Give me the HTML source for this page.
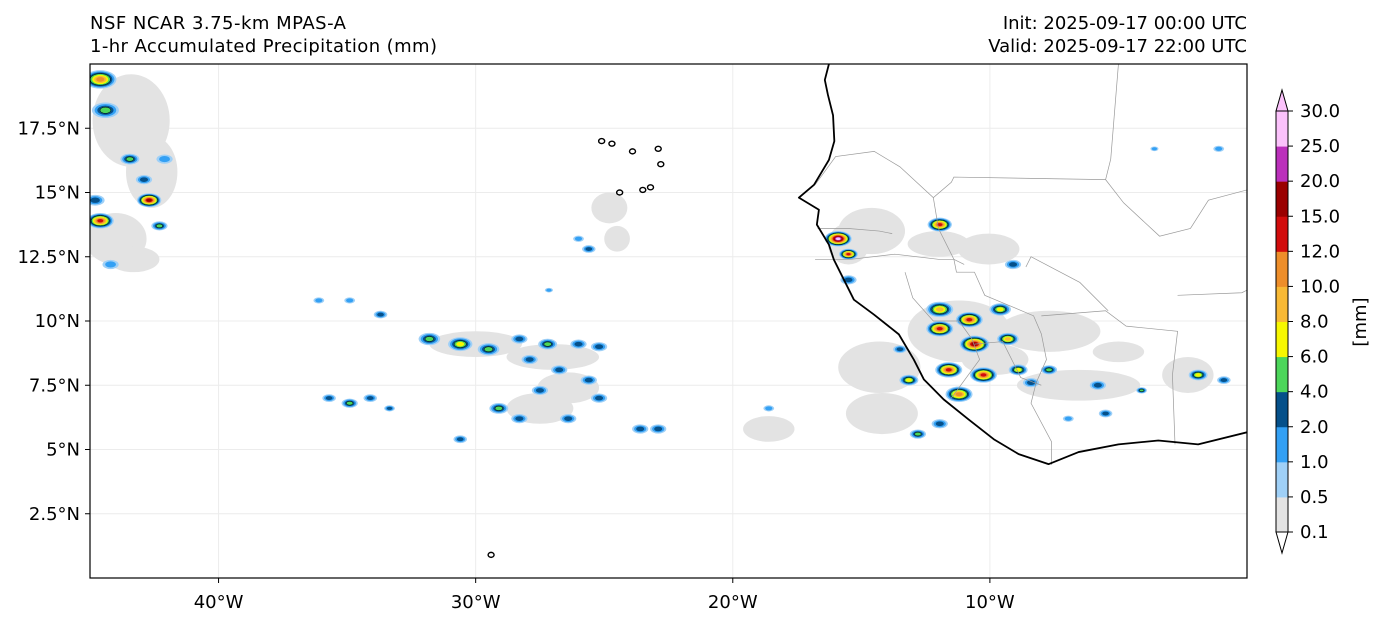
<!DOCTYPE html>
<html><head><meta charset="utf-8">
<style>
body{margin:0;background:#fff;font-family:"Liberation Sans","DejaVu Sans",sans-serif;}
svg{display:block}
text{font-family:"DejaVu Sans","Liberation Sans",sans-serif;font-size:18px;fill:#000}
</style></head>
<body>
<svg id="chart" width="1384" height="623" viewBox="0 0 1384 623" xmlns="http://www.w3.org/2000/svg">
<rect width="1384" height="623" fill="#fff"/>
<text x="90" y="29" textLength="256">NSF NCAR 3.75-km MPAS-A</text>
<text x="90" y="52" textLength="347">1-hr Accumulated Precipitation (mm)</text>
<text x="1247" y="29" text-anchor="end">Init: 2025-09-17 00:00 UTC</text>
<text x="1247" y="52" text-anchor="end">Valid: 2025-09-17 22:00 UTC</text>
<defs><clipPath id="mapclip"><rect x="90" y="64" width="1157" height="514"/></clipPath></defs>
<g id="grid"></g>
<g id="precip" clip-path="url(#mapclip)"></g>
<g id="geo" clip-path="url(#mapclip)"></g>
<rect x="90" y="64" width="1157" height="514" fill="none" stroke="#000" stroke-width="1.2"/>
<g id="axes"></g>
<g id="cbar"></g>
<text transform="translate(1366,322) rotate(-90)" text-anchor="middle">[mm]</text>
</svg>
<script>
const NS="http://www.w3.org/2000/svg";
// ---- data ----
const lonTicks=[-40,-30,-20,-10];
const lonLabels=["40°W","30°W","20°W","10°W"];
const latTicks=[2.5,5,7.5,10,12.5,15,17.5];
const latLabels=["2.5°N","5°N","7.5°N","10°N","12.5°N","15°N","17.5°N"];
const levels=[0.1,0.5,1,2,4,6,8,10,12,15,20,25,30];
const levelColors=["#e3e3e3","#9fd0f7","#33a0f4","#05508a","#4cd65a","#f7f700","#f8b935","#ee8e2a","#d20c0c","#9a0000","#bb30bb","#fbc2fb"];
const coastLon=[-16.26,-16.42,-16.3,-16.1,-16.05,-16.26,-16.84,-17.43,-16.65,-16.73,-16.26,-16.07,-15.29,-14.51,-13.54,-12.96,-12.57,-11.8,-10.83,-9.85,-8.88,-7.72,-6.55,-5.0,-3.45,-1.9,0];
const coastLat=[20,19.38,18.8,18.0,17.0,16.27,15.3,14.8,14.33,13.75,12.97,12.39,10.83,10.25,9.48,8.5,7.73,6.95,6.17,5.4,4.82,4.43,4.9,5.2,5.35,5.2,5.67];
const borders=[
 [[-16.8,15.3],[-16.0,16.4],[-14.5,16.6],[-13.5,16.0],[-12.2,14.8],[-11.5,15.4],[-11.4,15.6],[-5.5,15.5],[-5.3,16.3],[-5.0,20]],
 [[-16.7,13.6],[-15.5,13.6],[-14.3,13.5],[-13.8,13.4]],
 [[-16.8,12.4],[-15.4,12.4],[-13.7,12.6],[-12.0,12.4],[-11.4,12.4],[-11.0,12.2]],
 [[-12.2,14.8],[-12.0,13.6],[-11.4,12.4],[-11.3,11.9],[-10.6,11.9],[-10.2,11.0],[-9.0,10.5],[-8.3,10.2],[-8.0,9.5],[-7.8,8.5],[-8.2,7.6],[-8.4,6.8],[-7.6,5.3],[-7.6,4.4]],
 [[-13.3,11.9],[-13.0,10.9],[-12.2,10.0],[-11.2,10.0],[-10.7,9.3],[-10.4,8.5],[-11.5,7.0]],
 [[-10.6,9.1],[-9.5,9.2],[-8.8,7.8],[-8.0,7.5]],
 [[-5.5,15.5],[-4.8,14.6],[-3.4,13.3],[-2.2,13.6],[-1.5,14.7],[0,15.1]],
 [[-8.0,10.2],[-5.5,10.4],[-4.7,9.8],[-2.7,9.6],[-2.9,7.9],[-2.8,5.2]],
 [[-2.7,11.0],[-0.2,11.1],[0,11.2]],
 [[-8.6,12.1],[-8.4,12.5],[-6.5,11.5],[-5.4,10.4]]
];
const grayLon=[-43.4,-42.6,-44.0,-24.8,-14.6,-14.3,-11.2,-7.7,-6.55,-10.05,-2.3,-30.0,-27.0,-27.5,-26.4,-18.6,-15.5,-12.0,-14.2,-9.8,-5.0,-24.5,-43.3];
const grayLat=[17.8,15.8,13.2,14.4,13.5,8.2,9.6,9.6,7.5,12.8,7.9,9.1,8.6,6.6,7.4,5.8,13.0,13.0,6.4,8.5,8.8,13.2,12.4];
const grayRx=[1.5,1.0,1.2,0.7,1.3,1.6,2.0,2.0,2.4,1.2,1.0,1.8,1.8,1.3,1.2,1.0,0.8,1.2,1.4,1.3,1.0,0.5,1.0];
const grayRy=[1.8,1.4,1.0,0.6,0.9,1.0,1.2,0.8,0.6,0.6,0.7,0.5,0.5,0.6,0.6,0.5,0.8,0.5,0.8,0.6,0.4,0.5,0.5];
const cellLon=[-44.6,-44.4,-44.6,-44.8,-43.45,-42.7,-42.9,-42.3,-42.1,-44.2,-31.8,-30.6,-29.5,-28.3,-27.2,-26.0,-25.2,-27.9,-26.75,-25.6,-27.5,-29.1,-28.3,-26.4,-25.2,-23.6,-22.9,-30.6,-36.1,-34.9,-33.7,-35.7,-34.9,-34.1,-33.35,-26.0,-25.6,-27.15,-18.6,-15.9,-15.5,-11.95,-9.1,-11.95,-10.8,-9.6,-11.95,-10.6,-9.3,-11.6,-10.25,-8.9,-7.7,-13.15,-11.2,-11.95,-5.8,-1.9,-0.9,-6.95,-5.5,-13.5,-1.1,-4.1,-15.5,-12.8,-8.4,-3.6];
const cellLat=[19.4,18.2,13.9,14.7,16.3,14.7,15.5,13.7,16.3,12.2,9.3,9.1,8.9,9.3,9.1,9.1,9.0,8.5,8.1,7.7,7.3,6.6,6.2,6.2,7.0,5.8,5.8,5.4,10.8,10.8,10.25,7.0,6.8,7.0,6.6,13.2,12.8,11.2,6.6,13.2,12.6,13.75,12.2,10.45,10.05,10.45,9.7,9.1,9.3,8.1,7.9,8.1,8.1,7.7,7.15,6.0,7.5,7.9,7.7,6.2,6.4,8.9,16.7,7.3,11.6,5.6,7.6,16.7];
const cellSize=[0.6,0.5,0.5,0.35,0.35,0.45,0.3,0.3,0.3,0.3,0.4,0.45,0.4,0.3,0.35,0.3,0.3,0.3,0.3,0.3,0.3,0.35,0.3,0.3,0.3,0.3,0.3,0.25,0.2,0.2,0.25,0.25,0.3,0.25,0.2,0.2,0.25,0.15,0.2,0.5,0.35,0.45,0.3,0.5,0.5,0.4,0.5,0.55,0.4,0.5,0.5,0.35,0.3,0.35,0.5,0.3,0.3,0.35,0.25,0.2,0.25,0.25,0.2,0.2,0.3,0.3,0.3,0.15];
const cellLevel=[7,4,8,3,4,9,3,4,2,2,4,5,4,3,4,3,3,3,3,3,3,4,3,3,3,3,3,3,2,2,3,3,4,3,3,2,3,2,2,11,8,8,3,6,8,5,8,9,6,8,8,5,4,5,7,3,3,5,3,2,3,3,2,4,3,4,3,2];
// ---- scales ----
const X0=90,X1=1247,Y0=64,Y1=578,LON0=-45,LON1=0,LAT0=0,LAT1=20;
const xS=l=>X0+(l-LON0)/(LON1-LON0)*(X1-X0);
const yS=l=>Y1-(l-LAT0)/(LAT1-LAT0)*(Y1-Y0);
const kx=(X1-X0)/(LON1-LON0), ky=(Y1-Y0)/(LAT1-LAT0);
function mk(tag,attrs,parent){const e=document.createElementNS(NS,tag);for(const k in attrs)e.setAttribute(k,attrs[k]);parent.appendChild(e);return e;}
const grid=document.getElementById('grid'),axes=document.getElementById('axes');
lonTicks.forEach((v,i)=>{
 const g=mk('line',{x1:xS(v),x2:xS(v),y1:Y0,y2:Y1,stroke:'#ececec','stroke-width':1},grid);
 
 
 const t=mk('line',{x1:xS(v),x2:xS(v),y1:Y1,y2:Y1+5,stroke:'#000'},axes);
 
 
 const tx=mk('text',{x:xS(v),y:Y1+30,'text-anchor':'middle'},axes);tx.textContent=lonLabels[i];
 
 
});
latTicks.forEach((v,i)=>{
 const g=mk('line',{x1:X0,x2:X1,y1:yS(v),y2:yS(v),stroke:'#ececec','stroke-width':1},grid);
 
 
 const t=mk('line',{x1:X0-5,x2:X0,y1:yS(v),y2:yS(v),stroke:'#000'},axes);
 
 
 const tx=mk('text',{x:X0-10,y:yS(v)+6,'text-anchor':'end'},axes);tx.textContent=latLabels[i];
 
 
});
// precip
const pr=document.getElementById('precip');
grayLon.forEach((v,i)=>{
 const e=mk('ellipse',{cx:xS(v),cy:yS(grayLat[i]),rx:grayRx[i]*kx,ry:grayRy[i]*ky,fill:levelColors[0]},pr);
 
 
});
cellLon.forEach((v,i)=>{
 const L=cellLevel[i],s=cellSize[i]*0.75;
 for(let k=1;k<=L;k++){
  const f=1-(k-1)/(L+1);
  const e=mk('ellipse',{cx:xS(v),cy:yS(cellLat[i]),rx:s*kx*f*1.4,ry:s*ky*f*0.8,fill:levelColors[k],stroke:k==4?'#000':'none','stroke-width':0.5},pr);
  
  
 }
});
// geography
const geo=document.getElementById('geo');
borders.forEach(b=>{
 const p=mk('polyline',{points:b.map(q=>xS(q[0])+','+yS(q[1])).join(' '),fill:'none',stroke:'#999','stroke-width':0.7},geo);
 
 
});
const cp=mk('polyline',{points:coastLon.map((v,i)=>xS(v)+','+yS(coastLat[i])).join(' '),fill:'none',stroke:'#000','stroke-width':1.8,'stroke-linejoin':'round'},geo);


const islLon=[-24.7,-23.9,-22.9,-22.8,-24.4,-23.5,-23.2,-25.1,-29.4];
const islLat=[16.9,16.6,16.7,16.1,15.0,15.1,15.2,17.0,0.9];
islLon.forEach((v,i)=>{
 const e=mk('ellipse',{cx:xS(v),cy:yS(islLat[i]),rx:3,ry:2.5,fill:'none',stroke:'#000','stroke-width':1.4},geo);
 
 
});
// colorbar
const cb=document.getElementById('cbar');
const CX=1276,CW=12,CB0=532,CT=111;
const seg=(CB0-CT)/(levels.length-1);
levelColors.forEach((c,i)=>{
 const r=mk('rect',{x:CX,y:CB0-(i+1)*seg,width:CW,height:seg+0.5,fill:c},cb);
 
 
});
const tri1=mk('polygon',{points:`${CX},${CT} ${CX+CW},${CT} ${CX+CW/2},${CT-21}`,fill:levelColors[11],stroke:'#000'},cb);


const tri2=mk('polygon',{points:`${CX},${CB0} ${CX+CW},${CB0} ${CX+CW/2},${CB0+21}`,fill:'#fff',stroke:'#000'},cb);


const ob=mk('rect',{x:CX,y:CT,width:CW,height:CB0-CT,fill:'none',stroke:'#000'},cb);


levels.forEach((v,i)=>{
 const y=CB0-i*seg;
 const t=mk('line',{x1:CX+CW,x2:CX+CW+5,y1:y,y2:y,stroke:'#000'},cb);
 
 
 const tx=mk('text',{x:CX+CW+12,y:y+6},cb);tx.textContent=v.toFixed(1);
 
 
});
</script>
</body></html>
